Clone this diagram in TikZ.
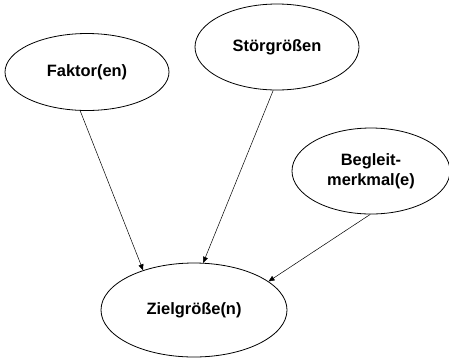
\documentclass[tikz,border=0pt]{standalone}
\usepackage{fontspec}
\setmainfont{Liberation Sans}
\usetikzlibrary{shapes.geometric,arrows.meta}
\begin{document}
\begin{tikzpicture}[x=1bp,y=-1bp,
  ell/.style={draw, ellipse, line width=0.8bp, inner sep=0pt, align=center,
    font=\fontsize{16.5}{20}\selectfont\bfseries},
  conn/.style={line width=0.5bp, -{Triangle[length=6bp,width=5bp]}}]
\useasboundingbox (0,0) rectangle (449,358);
\node[ell, minimum width=164bp, minimum height=77bp] (f) at (87,72) {Faktor(en)};
\node[ell, minimum width=164bp, minimum height=86bp] (s) at (277,47) {Störgrößen};
\node[ell, minimum width=158bp, minimum height=86bp] (b) at (371,171) {Begleit-\\merkmal(e)};
\node[ell, minimum width=186bp, minimum height=94bp] (z) at (194,310) {Zielgröße(n)};
\draw[conn] (f.260) -- (z.142);
\draw[conn] (s.265) -- (z.79);
\draw[conn] (b.269) -- (z.21);
\end{tikzpicture}
\end{document}
